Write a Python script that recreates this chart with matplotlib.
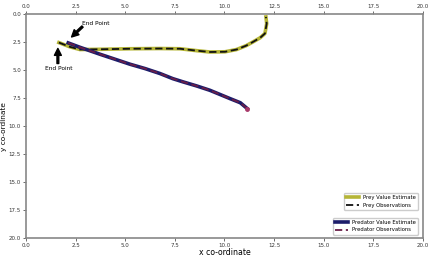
import matplotlib
matplotlib.use('Agg')
import matplotlib.pyplot as plt
import numpy as np

# track (x, y co-ordinates)
prey_x = [1.66, 2.2, 2.72, 3.73, 5.24, 6.75, 7.76, 8.6, 9.27, 10.03, 10.61, 11.1, 11.44, 11.8, 12.04, 12.13, 12.09]
prey_y = [2.53, 2.9, 3.15, 3.13, 3.08, 3.06, 3.08, 3.25, 3.37, 3.35, 3.15, 2.8, 2.47, 2.1, 1.72, 0.83, 0.24]

pred_x = [2.13, 2.72, 3.73, 5.24, 6.0, 6.75, 7.4, 7.92, 8.6, 9.27, 10.28, 10.8, 11.15]
pred_y = [2.56, 2.95, 3.57, 4.46, 4.85, 5.29, 5.75, 6.04, 6.4, 6.79, 7.53, 7.9, 8.42]

xticks = np.arange(0, 20.1, 2.5)
yticks = np.arange(0, 20.1, 2.5)

fig = plt.figure(figsize=(4.32, 2.59), dpi=100)
ax = fig.add_axes([0.06, 0.08, 0.919, 0.865])

l1, = ax.plot(prey_x, prey_y, color='#b5b536', lw=2.6, label='Prey Value Estimate')
l2, = ax.plot(prey_x, prey_y, '--', color='#111111', lw=1.3, dashes=(4, 2), label='Prey Observations')
l3, = ax.plot(pred_x, pred_y, color='#1c1c6a', lw=2.6, label='Predator Value Estimate')
l4, = ax.plot(pred_x, pred_y, '--', color='#6a1e48', lw=1.3, dashes=(4, 2), label='Predator Observations')
ax.plot(pred_x[-1], pred_y[-1], 'o', color='#a83a6a', ms=2.5)

arrow = dict(facecolor='black', edgecolor='black', width=1.3, headwidth=5, headlength=5, shrink=0.0)
ax.annotate('', xy=(2.3, 2.03), xytext=(2.85, 1.1), arrowprops=arrow)
ax.text(2.8, 0.85, 'End Point', fontsize=4.2, ha='left', va='center')
ax.annotate('', xy=(1.61, 3.05), xytext=(1.61, 4.4), arrowprops=arrow)
ax.text(1.66, 4.8, 'End Point', fontsize=4.2, ha='center', va='center')

ax.set_xlim(0, 20)
ax.set_ylim(20, 0)
ax.set_xticks(xticks)
ax.set_yticks(yticks)
ax.tick_params(labelsize=4, length=2, width=0.5, top=True, labeltop=True, colors='#333333', pad=1.5)
for s in ax.spines.values():
    s.set_color('#888888')
    s.set_linewidth(1.2)

ax.set_xlabel('x co-ordinate', fontsize=5.6, labelpad=0)
ax.set_ylabel('y co-ordinate', fontsize=5.3)
ax.yaxis.set_label_coords(-0.047, 0.5)

leg1 = ax.legend(handles=[l1, l2], loc='lower right', bbox_to_anchor=(0.995, 0.115),
                 fontsize=3.8, handlelength=2.5, framealpha=1)
ax.add_artist(leg1)
ax.legend(handles=[l3, l4], loc='lower right', bbox_to_anchor=(0.995, 0.005),
          fontsize=3.8, handlelength=2.5, framealpha=1)

fig.savefig('out.png', dpi=100)
